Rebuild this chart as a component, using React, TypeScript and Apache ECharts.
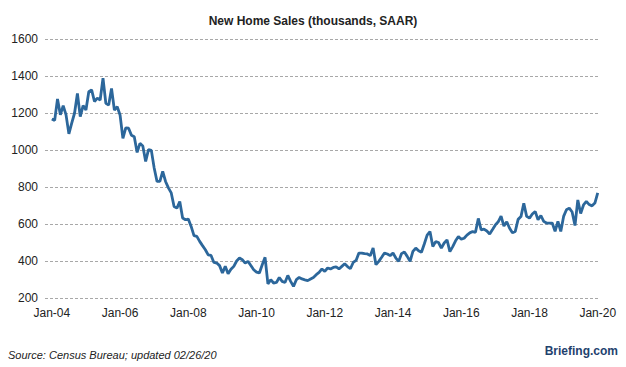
import React, { useEffect, useRef } from "react";
import * as echarts from "echarts";

const y2004 = [1168, 1160, 1276, 1190, 1240, 1190, 1087, 1145, 1200, 1306, 1180, 1240];
const y2005 = [1216, 1315, 1325, 1262, 1280, 1270, 1388, 1252, 1243, 1333, 1216, 1234];
const y2006 = [1189, 1063, 1120, 1118, 1080, 1072, 987, 1036, 1022, 938, 1002, 998];
const y2007 = [903, 830, 830, 884, 830, 795, 768, 695, 686, 722, 632, 623];
const y2008 = [627, 587, 537, 533, 506, 483, 461, 433, 430, 392, 389, 375];
const y2009 = [335, 371, 331, 355, 371, 400, 416, 407, 389, 398, 376, 353];
const y2010 = [340, 335, 380, 420, 276, 299, 281, 284, 311, 290, 284, 322];
const y2011 = [290, 263, 299, 311, 303, 298, 294, 303, 311, 326, 338, 357];
const y2012 = [344, 362, 357, 365, 368, 357, 371, 385, 370, 358, 392, 403];
const y2013 = [443, 443, 440, 438, 429, 470, 380, 398, 420, 443, 438, 429];
const y2014 = [443, 416, 398, 440, 449, 425, 398, 452, 470, 455, 447, 492];
const y2015 = [540, 559, 478, 505, 500, 470, 497, 514, 451, 478, 509, 532];
const y2016 = [518, 523, 540, 552, 559, 555, 630, 568, 572, 562, 546, 570];
const y2017 = [595, 612, 643, 589, 612, 577, 553, 560, 625, 640, 712, 641];
const y2018 = [632, 654, 668, 623, 646, 614, 605, 605, 605, 560, 614, 560];
const y2019 = [641, 677, 686, 665, 592, 730, 657, 703, 722, 705, 698, 713];
const y2020 = [768];

const tickLabels = ["Jan-04", "Jan-06", "Jan-08", "Jan-10", "Jan-12", "Jan-14", "Jan-16", "Jan-18", "Jan-20"];
const tickMonths = [0, 24, 48, 72, 96, 120, 144, 168, 192];

const sales = [
  ...y2004, ...y2005, ...y2006, ...y2007, ...y2008, ...y2009, ...y2010, ...y2011,
  ...y2012, ...y2013, ...y2014, ...y2015, ...y2016, ...y2017, ...y2018, ...y2019, ...y2020,
];

export default function App() {
  const ref = useRef<HTMLDivElement>(null);
  useEffect(() => {
    document.body.style.margin = "0";
    if (!ref.current) return;
    const chart = echarts.init(ref.current, null, { renderer: "svg" });
    const data = sales.map((v, i) => [i, v]);
    chart.setOption({
      animation: false,
      backgroundColor: "#ffffff",
      title: {
        text: "New Home Sales (thousands, SAAR)",
        left: "center",
        top: 10,
        textStyle: { fontFamily: "Liberation Sans", fontSize: 12, fontWeight: "bold", color: "#222" },
      },
      grid: { left: 45, right: 26, top: 39, bottom: 69 },
      xAxis: {
        type: "value",
        min: -2.4,
        max: 192.8,
        axisLine: { show: false },
        axisTick: { show: false },
        splitLine: { show: false },
        axisLabel: {
          customValues: tickMonths,
          formatter: (v: number) => {
            const k = tickMonths.indexOf(Math.round(v));
            return k >= 0 ? tickLabels[k] : "";
          },
          margin: 9,
          fontFamily: "Liberation Sans",
          fontSize: 12,
          color: "#222",
        },
      },
      yAxis: {
        type: "value",
        min: 200,
        max: 1600,
        interval: 200,
        axisLine: { show: false },
        axisTick: { show: false },
        axisLabel: {
          margin: 7,
          formatter: (v: number) => String(v),
          fontFamily: "Liberation Sans",
          fontSize: 12,
          color: "#222",
        },
        splitLine: { show: true, lineStyle: { color: "#a8a8a8", type: [3, 2], width: 1 } },
      },
      series: [
        {
          type: "line",
          data,
          showSymbol: false,
          symbol: "none",
          lineStyle: { color: "#2c679b", width: 2.8 },
        },
      ],
      graphic: [
        {
          type: "text",
          left: 8,
          top: 349,
          style: {
            text: "Source: Census Bureau; updated 02/26/20",
            font: "italic 11px 'Liberation Sans'",
            fill: "#222",
          },
        },
        {
          type: "text",
          right: 8,
          top: 345,
          style: {
            text: "Briefing.com",
            font: "bold 12px 'Liberation Sans'",
            fill: "#1f426e",
          },
        },
      ],
    });
    return () => chart.dispose();
  }, []);
  return <div ref={ref} style={{ width: 626, height: 367 }} />;
}
